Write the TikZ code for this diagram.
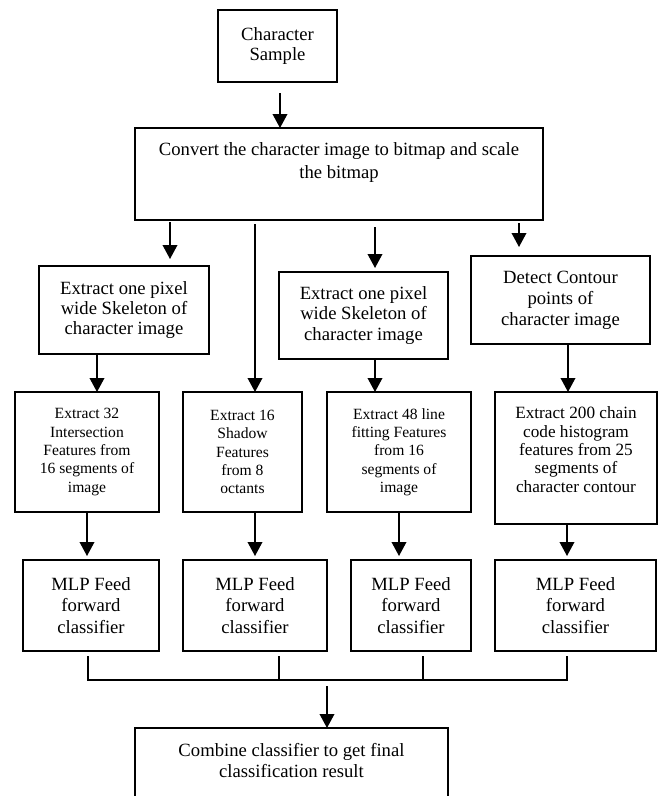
\documentclass[tikz,border=0pt]{standalone}
\usepackage{fontspec}
\setmainfont{Liberation Serif}
\usetikzlibrary{arrows.meta}
\begin{document}
\begin{tikzpicture}[x=0.75pt,y=-0.75pt,
  box/.style={draw, line width=1.2pt, inner sep=0pt, outer sep=0pt, align=center},
  big/.style={font=\fontsize{14}{#1}\selectfont},
  small/.style={font=\fontsize{11.7}{13.75}\selectfont},
  tx/.style={inner sep=0pt, align=center},
  arr/.style={line width=1.1pt, -{Triangle[length=10.5pt,width=11pt]}},
  ln/.style={line width=1.1pt, line join=miter}]
\useasboundingbox (0,0) rectangle (668,796);
\clip (0,0) rectangle (668,796);
% boxes
\node[box, big=15, minimum width=89.25pt, minimum height=54pt] (cs) at (277.5,46) {Character\\Sample};
\node[box, minimum width=306pt, minimum height=69pt] (cv) at (339,174) {};
\node[tx, big=17.25] (cvt) at (339,162.5) {Convert the character image to bitmap and scale\\the bitmap};
\node[box, big=15, minimum width=127.5pt, minimum height=66pt] (e1) at (124,310) {Extract one pixel\\wide Skeleton of\\character image};
\node[box, big=15.2, minimum width=126.75pt, minimum height=65.25pt] (e2) at (363.5,315.5) {Extract one pixel\\wide Skeleton of\\character image};
\node[box, big=15.75, minimum width=134.25pt, minimum height=66pt] (dc) at (560.5,300) {Detect Contour\\points of\\character image};
\node[box, small, minimum width=108pt, minimum height=90pt] (f1) at (87,452) {Extract 32\\Intersection\\Features from\\16 segments of\\image};
\node[box, small, minimum width=89.25pt, minimum height=90pt] (f2) at (242.5,452) {Extract 16\\Shadow\\Features\\from 8\\octants};
\node[box, small, minimum width=108pt, minimum height=90pt] (f3) at (399,452) {Extract 48 line\\fitting Features\\from 16\\segments of\\image};
\node[box, minimum width=121.5pt, minimum height=99pt] (f4) at (576,458) {};
\node[tx, font=\fontsize{12.9}{13.75}\selectfont] (f4t) at (576,449.5) {Extract 200 chain\\code histogram\\features from 25\\segments of\\character contour};
\node[box, big=16, minimum width=102pt, minimum height=68.25pt] (m1) at (91,605.5) {MLP Feed\\forward\\classifier};
\node[box, big=16, minimum width=108pt, minimum height=68.25pt] (m2) at (255,605.5) {MLP Feed\\forward\\classifier};
\node[box, big=16, minimum width=90pt, minimum height=68.25pt] (m3) at (411,605.5) {MLP Feed\\forward\\classifier};
\node[box, big=16, minimum width=120.75pt, minimum height=68.25pt] (m4) at (575.5,605.5) {MLP Feed\\forward\\classifier};
\node[box, minimum width=234.75pt, minimum height=61.5pt] (cb) at (291.5,769) {};
\node[tx, big=15.5] (cbt) at (291.5,760.5) {Combine classifier to get final\\classification result};
% x positions of connectors
\coordinate (xA) at (280,0);
\coordinate (xB) at (170,0);
\coordinate (xC) at (255,0);
\coordinate (xD) at (375,0);
\coordinate (xE) at (519,0);
\coordinate (xF) at (97,0);
\coordinate (xG) at (568,0);
\coordinate (xH) at (87,0);
\coordinate (xI) at (399,0);
\coordinate (xJ) at (567,0);
\coordinate (xK) at (88,0);
\coordinate (xL) at (279,0);
\coordinate (xM) at (423,0);
\coordinate (xN) at (327,0);
\coordinate (bus) at (0,680);
% arrows
\draw[arr, shorten <=8.25pt] (cs.south -| xA) -- (cv.north -| xA);
\draw[arr, shorten <=1.5pt, shorten >=5.25pt] (cv.south -| xB) -- (e1.north -| xB);
\draw[arr, shorten <=3pt] (cv.south -| xC) -- (f2.north -| xC);
\draw[arr, shorten <=5.25pt, shorten >=3pt] (cv.south -| xD) -- (e2.north -| xD);
\draw[arr, shorten <=2.25pt, shorten >=6.75pt] (cv.south -| xE) -- (dc.north -| xE);
\draw[arr] (e1.south -| xF) -- (f1.north -| xF);
\draw[arr] (e2.south -| xD) -- (f3.north -| xD);
\draw[arr] (dc.south -| xG) -- (f4.north -| xG);
\draw[arr, shorten >=3pt] (f1.south -| xH) -- (m1.north -| xH);
\draw[arr, shorten >=3pt] (f2.south -| xC) -- (m2.north -| xC);
\draw[arr, shorten >=3pt] (f3.south -| xI) -- (m3.north -| xI);
\draw[arr, shorten >=3pt] (f4.south -| xJ) -- (m4.north -| xJ);
% combining bus
\draw[ln, shorten <=3.75pt, shorten >=3.75pt] (m1.south -| xK) -- (bus -| xK) -- (bus -| xJ) -- (m4.south -| xJ);
\draw[ln, shorten <=3.75pt] (m2.south -| xL) -- (bus -| xL);
\draw[ln, shorten <=3.75pt] (m3.south -| xM) -- (bus -| xM);
\draw[arr, shorten <=4.5pt] (bus -| xN) -- (cb.north -| xN);
\end{tikzpicture}
\end{document}
